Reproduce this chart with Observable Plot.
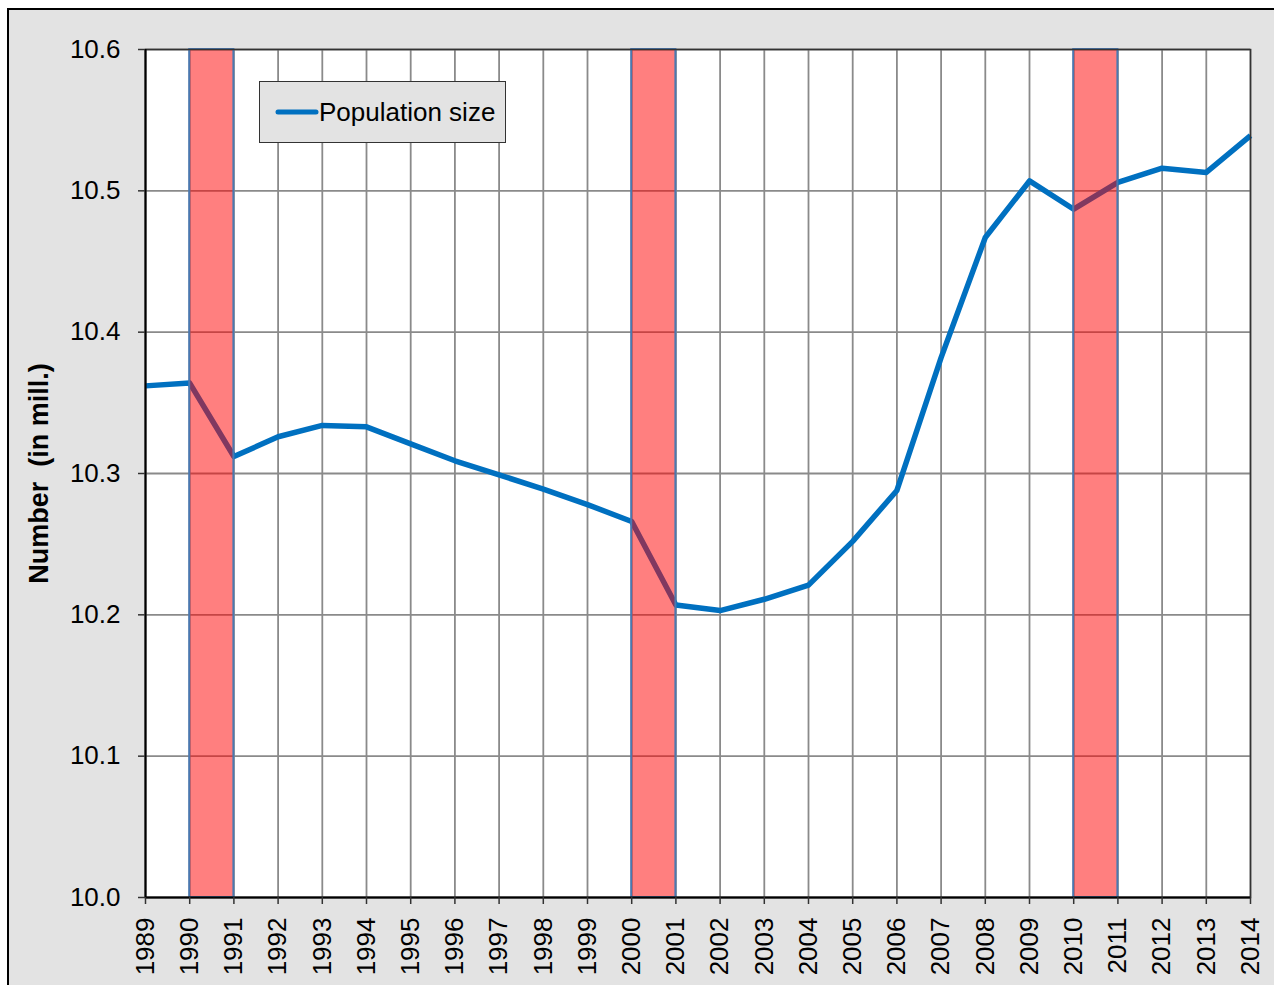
<!DOCTYPE html>
<html>
<head>
<meta charset="utf-8">
<script src="https://cdn.jsdelivr.net/npm/d3@7"></script>
<script src="https://cdn.jsdelivr.net/npm/@observablehq/plot@0.6"></script>
<style>
  html, body { margin: 0; padding: 0; background: #ffffff; overflow: hidden; }
  body { width: 1274px; height: 985px; position: relative; font-family: "Liberation Sans", Arial, sans-serif; }
  #frame { position: absolute; left: 7px; top: 8px; width: 1300px; height: 1000px; border: 2px solid #000; background: #e3e3e3; }
  #chart { position: absolute; left: 0; top: 0; }
  #legend { position: absolute; left: 259px; top: 81px; width: 245px; height: 60px; border: 1.5px solid #333; background: #e3e3e3; display: flex; align-items: center; }
  #legend svg { margin-left: 15px; }
  #legend span { font-size: 26px; color: #000; margin-left: 0px; line-height: 1; }
</style>
</head>
<body>
<div id="frame"></div>
<div id="chart"></div>
<div id="legend"></div>
<script>
// Data
const years = [1989,1990,1991,1992,1993,1994,1995,1996,1997,1998,1999,2000,2001,2002,2003,2004,2005,2006,2007,2008,2009,2010,2011,2012,2013,2014];
const population = [10.362,10.364,10.312,10.326,10.334,10.333,10.321,10.309,10.299,10.289,10.278,10.266,10.207,10.203,10.211,10.221,10.252,10.288,10.382,10.467,10.507,10.487,10.506,10.516,10.513,10.539];
const shadeStarts = [1990, 2000, 2010];
const shadeWidth = 1;
const xDomain = [1989, 2014];
const yDomain = [10.0, 10.6];
const yTicks = [10.0, 10.1, 10.2, 10.3, 10.4, 10.5, 10.6];
const seriesName = "Population size";
const yLabel = "Number  (in mill.)";

const data = years.map((y, i) => ({year: y, value: population[i]}));
const shades = shadeStarts.map(s => ({x1: s, x2: s + shadeWidth, y1: yDomain[0], y2: yDomain[1]}));

const lineColor = "#0070c0";

const chart = Plot.plot({
  width: 1274,
  height: 985,
  marginLeft: 145,
  marginRight: 24,
  marginTop: 49,
  marginBottom: 88,
  style: { background: "transparent", fontFamily: "'Liberation Sans', Arial, sans-serif", color: "#000", overflow: "visible" },
  x: { domain: xDomain, ticks: years, tickFormat: "d" },
  y: { domain: yDomain, ticks: yTicks, tickFormat: d3.format(".1f") },
  marks: [
    Plot.frame({ fill: "white", stroke: null }),
    Plot.gridX(years, { stroke: "#8a8a8a", strokeOpacity: 1, strokeWidth: 1.8 }),
    Plot.gridY(yTicks, { stroke: "#8a8a8a", strokeOpacity: 1, strokeWidth: 1.8 }),
    Plot.line(data, { x: "year", y: "value", stroke: lineColor, strokeWidth: 5.5, strokeLinejoin: "round", strokeLinecap: "butt" }),
    Plot.rect(shades, { x1: "x1", x2: "x2", y1: "y1", y2: "y2", fill: "#ff0000", fillOpacity: 0.5, stroke: "#4a78b0", strokeWidth: 2 }),
    Plot.frame({ stroke: "#333", strokeWidth: 1.5 }),
    Plot.ruleX([xDomain[0]], { stroke: "#000", strokeWidth: 2 }),
    Plot.ruleY([yDomain[0]], { stroke: "#000", strokeWidth: 2 }),
    Plot.axisY({ ticks: yTicks, tickFormat: d3.format(".1f"), fontSize: 26, tickSize: 7, tickPadding: 18, stroke: "#333", strokeWidth: 1.5, label: null }),
    Plot.axisX({ ticks: years, tickFormat: "d", tickRotate: -90, fontSize: 26, tickSize: 7, tickPadding: 13, stroke: "#333", strokeWidth: 1.5, label: null }),
    Plot.text([yLabel], { text: d => d, frameAnchor: "left", dx: -98, rotate: -90, textAnchor: "middle", lineAnchor: "bottom", fontSize: 27, fontWeight: "bold", fill: "#000" })
  ]
});
chart.querySelectorAll("text").forEach(t => t.setAttribute("xml:space", "preserve"));
chart.style.whiteSpace = "pre";
document.getElementById("chart").appendChild(chart);

// Legend
const legend = document.getElementById("legend");
legend.innerHTML = `<svg width="44" height="10"><line x1="3" y1="5" x2="41" y2="5" stroke="${lineColor}" stroke-width="5" stroke-linecap="round"/></svg><span>${seriesName}</span>`;
</script>
</body>
</html>
